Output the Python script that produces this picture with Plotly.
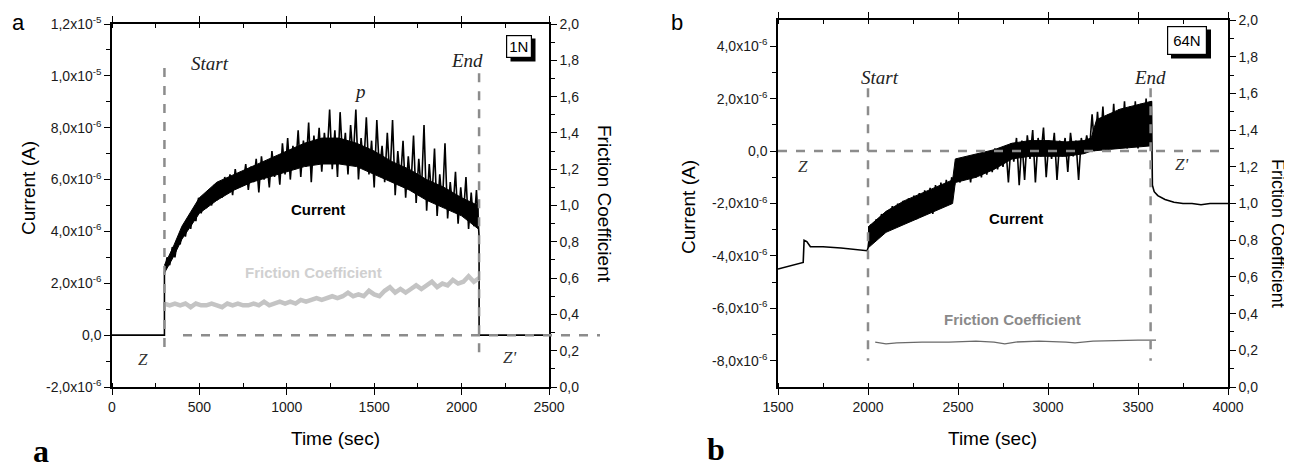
import plotly.graph_objects as go

# the page body adds an 8 px margin, so the figure is a bit smaller than the window
OFF = 8
W, H = 1292 - OFF, 473 - OFF

# ---------------- panel a (1N) ----------------
# current trace, units of 1e-6 A
a_cur_t = [0, 300, 300, 315, 330, 345, 360, 375, 390, 405, 420, 435, 450, 465, 480, 495,
           510, 525, 540, 555, 570, 585, 600, 615, 630, 645, 660, 675, 690, 705, 720, 735,
           750, 765, 780, 795, 810, 825, 840, 855, 870, 885, 900, 915, 930, 945, 960, 975,
           990, 1005, 1020, 1035, 1050, 1065, 1080, 1095, 1110, 1125, 1140, 1155, 1170, 1185,
           1200, 1215, 1230, 1245, 1260, 1275, 1290, 1305, 1320, 1335, 1350, 1365, 1380, 1395,
           1410, 1425, 1440, 1455, 1470, 1485, 1500, 1515, 1530, 1545, 1560, 1575, 1590, 1605,
           1620, 1635, 1650, 1665, 1680, 1695, 1710, 1725, 1740, 1755, 1770, 1785, 1800, 1815,
           1830, 1845, 1860, 1875, 1890, 1905, 1920, 1935, 1950, 1965, 1980, 1995, 2010, 2025,
           2040, 2055, 2070, 2085, 2100, 2100, 2500]
a_cur_v = [0, 0, 2.4, 3.0, 2.7, 3.4, 3.0, 3.7, 3.5, 4.2, 3.8, 4.5, 4.1, 4.8, 4.4, 5.3,
           4.7, 5.2, 4.9, 5.6, 5.0, 5.8, 5.2, 5.9, 5.3, 6.1, 5.5, 6.2, 5.4, 6.4, 5.7, 6.3,
           5.8, 6.6, 5.6, 6.5, 5.9, 6.8, 5.5, 6.9, 6.0, 6.7, 5.7, 7.1, 6.1, 6.9, 5.8, 7.4,
           6.2, 7.6, 6.0, 7.3, 6.4, 7.9, 6.1, 7.5, 6.5, 8.2, 5.9, 7.7, 6.6, 8.0,
           6.3, 7.8, 6.8, 8.7, 6.4, 7.9, 6.1, 8.6, 6.7, 7.8, 6.2, 8.1, 6.8, 8.7,
           6.0, 7.6, 6.5, 8.4, 6.2, 7.5, 5.7, 8.3, 6.3, 7.3, 5.9, 7.8, 6.0, 8.3,
           5.4, 7.1, 5.9, 7.5, 5.3, 6.9, 5.7, 7.7, 5.1, 6.8, 5.5, 8.1, 4.8, 6.6,
           5.2, 7.2, 4.6, 6.2, 5.0, 7.4, 4.5, 5.9, 4.8, 6.3, 4.3, 5.7, 4.6, 6.1,
           4.1, 5.5, 4.2, 5.6, 3.8, 0, 0]

# dense core of the noisy current band (lower / upper edge), 1e-6 A
a_band_t = [300, 350, 400, 500, 600, 700, 800, 900, 1000, 1100, 1200, 1300, 1400, 1500,
            1600, 1700, 1800, 1900, 2000, 2095]
a_band_lo = [2.4, 3.0, 3.7, 4.7, 5.2, 5.6, 5.9, 6.1, 6.3, 6.5, 6.6, 6.6, 6.5, 6.2,
             5.9, 5.6, 5.2, 4.9, 4.6, 4.1]
a_band_hi = [2.7, 3.4, 4.2, 5.3, 5.9, 6.2, 6.5, 6.8, 7.1, 7.4, 7.6, 7.6, 7.4, 7.1,
             6.7, 6.4, 6.0, 5.7, 5.3, 5.0]

# friction coefficient (right axis)
a_fric_t = [300, 330, 360, 390, 420, 450, 480, 510, 540, 570, 600, 630, 660, 690, 720, 750,
            780, 810, 840, 870, 900, 930, 960, 990, 1020, 1050, 1080, 1110, 1140, 1170, 1200,
            1230, 1260, 1290, 1320, 1350, 1380, 1410, 1440, 1470, 1500, 1530, 1560, 1590, 1620,
            1650, 1680, 1710, 1740, 1770, 1800, 1830, 1860, 1890, 1920, 1950, 1980, 2010, 2040,
            2070, 2100]
a_fric_v = [0.46, 0.45, 0.46, 0.45, 0.46, 0.44, 0.46, 0.45, 0.45, 0.46, 0.45, 0.44, 0.46, 0.45,
            0.46, 0.45, 0.45, 0.46, 0.45, 0.47, 0.45, 0.46, 0.47, 0.46, 0.47, 0.46, 0.48, 0.47,
            0.48, 0.49, 0.48, 0.49, 0.50, 0.49, 0.50, 0.52, 0.50, 0.51, 0.50, 0.53, 0.51, 0.50,
            0.53, 0.55, 0.52, 0.54, 0.52, 0.54, 0.56, 0.54, 0.56, 0.58, 0.55, 0.57, 0.56, 0.59,
            0.57, 0.58, 0.61, 0.58, 0.60]

a_cur_ticks = [-2e-6, 0, 2e-6, 4e-6, 6e-6, 8e-6, 1.0e-5, 1.2e-5]
a_cur_labels = ["-2,0x10<sup>-6</sup>", "0,0", "2,0x10<sup>-6</sup>", "4,0x10<sup>-6</sup>",
                "6,0x10<sup>-6</sup>", "8,0x10<sup>-6</sup>", "1,0x10<sup>-5</sup>",
                "1,2x10<sup>-5</sup>"]

# ---------------- panel b (64N) ----------------
b_cur_t = [1500, 1560, 1640, 1645, 1660, 1680, 1750, 1850, 1950, 1995,
           2000, 2015, 2030, 2045, 2060, 2075, 2090, 2105, 2120, 2135, 2150, 2165, 2180, 2195,
           2210, 2225, 2240, 2255, 2270, 2285, 2300, 2315, 2330, 2345, 2360, 2375, 2390, 2405,
           2420, 2435, 2450, 2465, 2480, 2495, 2510, 2525, 2540, 2555, 2570, 2585, 2600, 2615,
           2630, 2645, 2660, 2675, 2690, 2705, 2720, 2735, 2750, 2765, 2780, 2795, 2810, 2825,
           2840, 2855, 2870, 2885, 2900, 2915, 2930, 2945, 2960, 2975, 2990, 3005, 3020, 3035,
           3050, 3065, 3080, 3095, 3110, 3125, 3140, 3155, 3170, 3185, 3200, 3215, 3230, 3245,
           3260, 3275, 3290, 3305, 3320, 3335, 3350, 3365, 3380, 3395, 3410, 3425, 3440, 3455,
           3470, 3485, 3500, 3515, 3530, 3545, 3560, 3575,
           3580, 3590, 3610, 3650, 3700, 3750, 3800, 3850, 3900, 3950, 4000]
b_cur_v = [-4.5, -4.4, -4.25, -3.4, -3.45, -3.65, -3.65, -3.7, -3.75, -3.8,
           -3.7, -2.8, -3.4, -2.6, -3.3, -2.4, -3.1, -2.3, -3.0, -2.1, -2.9, -2.0, -2.8, -1.9,
           -2.7, -1.8, -2.6, -1.7, -2.6, -1.6, -2.5, -1.5, -2.4, -1.4, -2.4, -1.3, -2.2, -1.2,
           -2.1, -1.1, -1.9, -1.0, -1.3, -0.3, -1.2, -0.4, -1.1, -0.3, -1.2, -0.2, -1.0, -0.2,
           -1.0, -0.1, -0.9, 0.0, -0.8, 0.1, -0.7, 0.1, -0.6, 0.2, -1.2, 0.3, -0.4, 0.5,
           -1.3, 0.4, -1.1, 0.6, -0.3, 0.8, -1.2, 0.5, -0.2, 0.9, -1.0, 0.4, -0.3, 0.7,
           -1.1, 0.4, -0.2, 0.5, -0.8, 0.7, -0.2, 0.4, -1.1, 0.5, -0.1, 0.6, 0.0, 1.4,
           0.0, 1.5, 0.1, 1.7, 0.0, 1.4, 0.1, 1.8, 0.1, 1.6, 0.2, 1.9, 0.1, 1.7,
           0.2, 1.9, 0.1, 1.8, 0.2, 2.0, 0.3, 1.9,
           -1.3, -1.55, -1.7, -1.85, -1.95, -2.0, -2.0, -2.05, -2.0, -2.0, -2.0]

b_band_t = [2000, 2100, 2200, 2300, 2400, 2470, 2485, 2600, 2700, 2800, 2900, 3000, 3100,
            3200, 3240, 3270, 3400, 3575]
b_band_lo = [-3.7, -3.1, -2.8, -2.5, -2.2, -2.0, -1.2, -1.0, -0.7, -0.3, -0.2, -0.2, -0.2,
             -0.1, 0.0, 0.0, 0.1, 0.2]
b_band_hi = [-2.9, -2.3, -1.9, -1.6, -1.3, -1.1, -0.3, -0.1, 0.05, 0.3, 0.4, 0.4, 0.35,
             0.4, 0.5, 1.2, 1.6, 1.9]

b_fric_t = [2040, 2100, 2160, 2300, 2450, 2600, 2700, 2760, 2820, 2950, 3100, 3150, 3250,
            3400, 3500, 3600]
b_fric_v = [0.245, 0.235, 0.24, 0.245, 0.245, 0.25, 0.245, 0.235, 0.245, 0.25, 0.245, 0.24,
            0.25, 0.255, 0.255, 0.255]

b_cur_ticks = [-8e-6, -6e-6, -4e-6, -2e-6, 0, 2e-6, 4e-6]
b_cur_labels = ["-8,0x10<sup>-6</sup>", "-6,0x10<sup>-6</sup>", "-4,0x10<sup>-6</sup>",
                "-2,0x10<sup>-6</sup>", "0,0", "2,0x10<sup>-6</sup>", "4,0x10<sup>-6</sup>"]

fric_ticks = [0, 0.2, 0.4, 0.6, 0.8, 1.0, 1.2, 1.4, 1.6, 1.8, 2.0]
fric_labels = ["0,0", "0,2", "0,4", "0,6", "0,8", "1,0", "1,2", "1,4", "1,6", "1,8", "2,0"]

FONT = "Liberation Sans, Arial, sans-serif"
SERIF = "Liberation Serif, Times New Roman, serif"
DASH = "#8c8c8c"


def px_x(p):
    return (p - OFF) / W


def px_y(p):
    return 1 - (p - OFF) / H


fig = go.Figure()


def band(t, lo, hi, xa, ya):
    # filled core of a noisy record
    fig.add_trace(go.Scatter(x=t + t[::-1], y=[v * 1e-6 for v in hi + lo[::-1]],
                             mode="lines", fill="toself", fillcolor="black",
                             line=dict(color="black", width=1), xaxis=xa, yaxis=ya,
                             hoverinfo="skip"))


band(a_band_t, a_band_lo, a_band_hi, "x", "y")
fig.add_trace(go.Scatter(x=a_cur_t, y=[v * 1e-6 for v in a_cur_v], mode="lines",
                         line=dict(color="black", width=1.6), xaxis="x", yaxis="y"))
fig.add_trace(go.Scatter(x=a_fric_t, y=a_fric_v, mode="lines",
                         line=dict(color="#c4c4c4", width=4.5), xaxis="x", yaxis="y2"))
band(b_band_t, b_band_lo, b_band_hi, "x2", "y3")
fig.add_trace(go.Scatter(x=b_cur_t, y=[v * 1e-6 for v in b_cur_v], mode="lines",
                         line=dict(color="black", width=1.6), xaxis="x2", yaxis="y3"))
fig.add_trace(go.Scatter(x=b_fric_t, y=b_fric_v, mode="lines",
                         line=dict(color="#6a6a6a", width=1.3), xaxis="x2", yaxis="y4"))

axis_common = dict(showgrid=False, zeroline=False, showline=True, linecolor="black",
                   linewidth=1.5, ticks="outside", ticklen=6, tickwidth=1.2,
                   tickcolor="black", automargin=False,
                   tickfont=dict(family=FONT, size=14, color="#1a1a1a"))

fig.update_layout(
    width=W, height=H,
    margin=dict(l=0, r=0, t=0, b=0),
    paper_bgcolor="white", plot_bgcolor="white",
    showlegend=False,
    xaxis=dict(domain=[px_x(112), px_x(549)], range=[0, 2500], tick0=0, dtick=500,
               anchor="y", mirror="ticks",
               minor=dict(dtick=250, ticks="inside", ticklen=4, tickcolor="black"),
               **axis_common),
    yaxis=dict(domain=[px_y(387), px_y(24)], range=[-2e-6, 1.2e-5], anchor="x",
               tickmode="array", tickvals=a_cur_ticks, ticktext=a_cur_labels,
               minor=dict(tickmode="array", tickvals=[-1e-6, 1e-6, 3e-6, 5e-6, 7e-6, 9e-6, 1.1e-5],
                          ticks="outside", ticklen=4, tickcolor="black"),
               **axis_common),
    yaxis2=dict(domain=[px_y(387), px_y(24)], range=[0, 2.0], anchor="x", overlaying="y",
                side="right", tickmode="array", tickvals=fric_ticks, ticktext=fric_labels,
                minor=dict(dtick=0.1, ticks="outside", ticklen=4, tickcolor="black"),
                **axis_common),
    xaxis2=dict(domain=[px_x(778), px_x(1228)], range=[1500, 4000], tick0=1500, dtick=500,
                anchor="y3", mirror="ticks",
                minor=dict(dtick=250, ticks="inside", ticklen=4, tickcolor="black"),
                **axis_common),
    yaxis3=dict(domain=[px_y(387), px_y(20)], range=[-9e-6, 5e-6], anchor="x2",
                tickmode="array", tickvals=b_cur_ticks, ticktext=b_cur_labels,
                minor=dict(tickmode="array", tickvals=[-7e-6, -5e-6, -3e-6, -1e-6, 1e-6, 3e-6],
                           ticks="outside", ticklen=4, tickcolor="black"),
                **axis_common),
    yaxis4=dict(domain=[px_y(387), px_y(20)], range=[0, 2.0], anchor="x2", overlaying="y3",
                side="right", tickmode="array", tickvals=fric_ticks, ticktext=fric_labels,
                minor=dict(dtick=0.1, ticks="outside", ticklen=4, tickcolor="black"),
                **axis_common),
)

# dashed guide lines
dash_line = dict(color=DASH, width=2.5, dash="dash")
fig.add_shape(type="line", xref="x", yref="y", x0=300, x1=300, y0=1.03e-5, y1=-0.8e-6, line=dash_line)
fig.add_shape(type="line", xref="x", yref="y", x0=2100, x1=2100, y0=1.01e-5, y1=-0.9e-6, line=dash_line)
fig.add_shape(type="line", xref="paper", yref="y", x0=px_x(183), x1=px_x(600), y0=0, y1=0, line=dash_line)
fig.add_shape(type="line", xref="x2", yref="y3", x0=2000, x1=2000, y0=2.4e-6, y1=-8.0e-6, line=dash_line)
fig.add_shape(type="line", xref="x2", yref="y3", x0=3570, x1=3570, y0=2.4e-6, y1=-8.0e-6, line=dash_line)
fig.add_shape(type="line", xref="x2", yref="y3", x0=1500, x1=4000, y0=0, y1=0, line=dash_line)


def note(text, x, y, xref, yref, font, **kw):
    # always centre the text on its point (paper refs otherwise auto-anchor to edges)
    fig.add_annotation(text=text, x=x, y=y, xref=xref, yref=yref, showarrow=False,
                       xanchor="center", yanchor="middle", font=font, **kw)


ital = dict(family=SERIF, size=19, color="#222")
zfont = dict(family=SERIF, size=17, color="#333")

# panel a labels
note("<i>Start</i>", 560, 10.46e-6, "x", "y", ital)
note("<i>End</i>", 2029, 10.6e-6, "x", "y", ital)
note("<i>p</i>", 1417, 9.4e-6, "x", "y", ital)
note("<i>Z</i>", 177, -0.93e-6, "x", "y", zfont)
note("<i>Z'</i>", 2274, -0.85e-6, "x", "y", zfont)
note("<b>Current</b>", 1177, 4.86e-6, "x", "y", dict(family=FONT, size=15, color="black"))
note("<b>Friction Coefficient</b>", 1154, 2.43e-6, "x", "y", dict(family=FONT, size=15, color="#d0d0d0"))

# panel b labels
note("<i>Start</i>", 2067, 2.79e-6, "x2", "y3", ital)
note("<i>End</i>", 3567, 2.79e-6, "x2", "y3", ital)
note("<i>Z</i>", 1639, -0.57e-6, "x2", "y3", zfont)
note("<i>Z'</i>", 3744, -0.5e-6, "x2", "y3", zfont)
note("<b>Current</b>", 2820, -2.56e-6, "x2", "y3", dict(family=FONT, size=15, color="black"))
note("<b>Friction Coefficient</b>", 2800, -6.42e-6, "x2", "y3", dict(family=FONT, size=15, color="#8a8a8a"))

# load boxes with a drop shadow (shadow drawn as a black rectangle behind the box)
for text, cx, cy, half_w, half_h, pad in [("1N", 519, 46, 12.5, 11.5, 2),
                                          ("64N", 1187, 40, 20, 14.5, 5)]:
    fig.add_shape(type="rect", xref="paper", yref="paper", layer="above",
                  x0=px_x(cx - half_w + 4), x1=px_x(cx + half_w + 4),
                  y0=px_y(cy + half_h + 4), y1=px_y(cy - half_h + 4),
                  fillcolor="black", line=dict(width=0))
    note(text, px_x(cx), px_y(cy), "paper", "paper",
         dict(family=FONT, size=15, color="black"),
         bgcolor="white", bordercolor="black", borderwidth=1.2, borderpad=pad)

# axis titles
title_font = dict(family=FONT, size=19, color="black")
note("Current (A)", px_x(28), px_y(188), "paper", "paper", title_font, textangle=-90)
note("Time (sec)", px_x(336), px_y(438), "paper", "paper", title_font)
note("Friction Coefficient", px_x(605), px_y(204), "paper", "paper", title_font, textangle=90)
note("Current (A)", px_x(688), px_y(207), "paper", "paper", title_font, textangle=-90)
note("Time (sec)", px_x(992), px_y(438), "paper", "paper", title_font)
note("Friction Coefficient", px_x(1278), px_y(233), "paper", "paper",
     dict(family=FONT, size=18, color="black"), textangle=90)

# panel letters
note("a", px_x(18), px_y(23), "paper", "paper", dict(family=FONT, size=22, color="black"))
note("b", px_x(677), px_y(23), "paper", "paper", dict(family=FONT, size=22, color="black"))
note("<b>a</b>", px_x(41), px_y(451), "paper", "paper", dict(family=SERIF, size=32, color="black"))
note("<b>b</b>", px_x(716), px_y(449), "paper", "paper", dict(family=SERIF, size=32, color="black"))

fig.write_html("out.html")
